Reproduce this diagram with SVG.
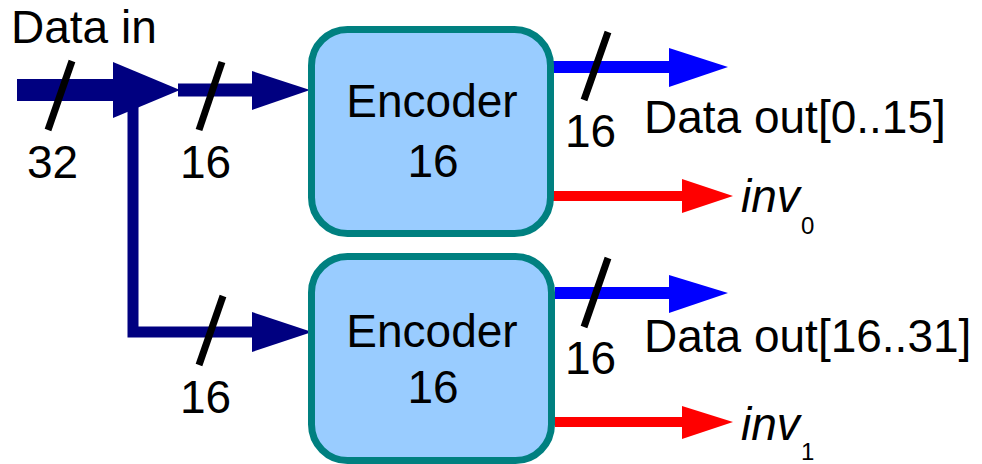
<svg xmlns="http://www.w3.org/2000/svg" width="982" height="464" viewBox="0 0 982 464">
<style>
text{font-family:"Liberation Sans",Arial,sans-serif;font-size:46px;fill:#000}
.box{fill:#99ccff;stroke:#008080;stroke-width:7}
.bus{stroke:#000080;fill:none}
.nav{fill:#000080}
.blu{stroke:#0000ff;stroke-width:12}
.bluh{fill:#0000ff}
.red{stroke:#ff0000;stroke-width:10}
.redh{fill:#ff0000}
.sl{stroke:#000;stroke-width:7}
.it{font-style:italic}
.sub{font-size:24px}
.mid{text-anchor:middle}
</style>
<rect width="982" height="464" fill="#fff"/>
<g id="connectors">
  <line class="bus" x1="17" y1="90" x2="116" y2="90" stroke-width="22"/>
  <polygon class="nav" points="113,62 180,90 113,118"/>
  <line class="bus" x1="178" y1="90" x2="256" y2="90" stroke-width="13"/>
  <polygon class="nav" points="252,71 310,90 252,110"/>
  <polyline class="bus" points="133,104 133,332 256,332" stroke-width="11"/>
  <polygon class="nav" points="252,312 312,332 252,352"/>
  <line class="blu" x1="553" y1="67" x2="673" y2="67"/>
  <polygon class="bluh" points="669,48 728,67 669,87"/>
  <line class="red" x1="553" y1="196" x2="686" y2="196"/>
  <polygon class="redh" points="682,179 733,196 682,213"/>
  <line class="blu" x1="555" y1="293" x2="673" y2="293"/>
  <polygon class="bluh" points="669,275 728,293 669,313"/>
  <line class="red" x1="555" y1="422" x2="686" y2="422"/>
  <polygon class="redh" points="682,406 733,422 682,439"/>
  <line class="sl" x1="72" y1="61" x2="48" y2="130"/>
  <line class="sl" x1="222" y1="62" x2="199" y2="130"/>
  <line class="sl" x1="223" y1="296" x2="199" y2="365"/>
  <line class="sl" x1="608" y1="32" x2="584" y2="100"/>
  <line class="sl" x1="608" y1="258" x2="584" y2="327"/>
</g>
<g id="encoder1">
  <rect class="box" x="311.5" y="29.5" width="239" height="204" rx="36"/>
  <text class="mid" x="432" y="117">Encoder</text>
  <text class="mid" x="433" y="177">16</text>
</g>
<g id="encoder2">
  <rect class="box" x="311.5" y="256.5" width="240" height="204" rx="36"/>
  <text class="mid" x="432" y="347">Encoder</text>
  <text class="mid" x="433" y="403">16</text>
</g>
<g id="labels">
  <text x="11" y="43">Data in</text>
  <text x="27" y="178">32</text>
  <text x="180" y="178">16</text>
  <text x="180" y="413">16</text>
  <text x="565" y="147">16</text>
  <text x="565" y="374">16</text>
  <text x="644" y="133">Data out[0..15]</text>
  <text x="644" y="352">Data out[16..31]</text>
  <text class="it" x="741" y="212">inv</text>
  <text class="sub" x="801" y="234">0</text>
  <text class="it" x="741" y="440">inv</text>
  <text class="sub" x="801" y="460">1</text>
</g>
</svg>
